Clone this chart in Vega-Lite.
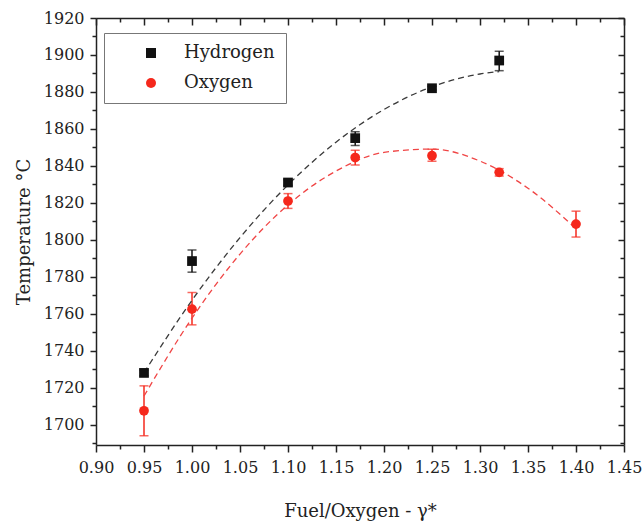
{
  "$schema": "https://vega.github.io/schema/vega-lite/v6.json",
  "width": 528,
  "height": 427,
  "autosize": {"type": "none"},
  "padding": {"left": 96, "top": 18, "right": 20, "bottom": 84},
  "background": "white",
  "config": {
    "view": {"stroke": null},
    "font": "DejaVu Serif",
    "axis": {
      "labelFont": "DejaVu Serif",
      "titleFont": "DejaVu Serif",
      "labelFontSize": 16,
      "titleFontSize": 18,
      "titleFontWeight": "normal",
      "labelColor": "#222",
      "titleColor": "#222",
      "domainColor": "#222",
      "tickColor": "#222",
      "domainWidth": 1.5,
      "tickWidth": 1.5,
      "grid": false
    },
    "legend": {
      "labelFont": "DejaVu Serif",
      "labelFontSize": 18,
      "labelColor": "#222",
      "orient": "none",
      "legendX": 8,
      "legendY": 15,
      "padding": 11,
      "strokeColor": "#777",
      "symbolOffset": 27,
      "labelOffset": 24,
      "rowPadding": 12,
      "symbolSize": 100,
      "symbolStrokeWidth": 0
    }
  },
  "datasets": {
    "pts": [
      {"series": "Hydrogen", "x": 0.95, "T": 1728, "lo": 1726.5, "hi": 1729.5},
      {"series": "Hydrogen", "x": 1.00, "T": 1788.5, "lo": 1782.5, "hi": 1794.5},
      {"series": "Hydrogen", "x": 1.10, "T": 1831, "lo": 1829.5, "hi": 1832.5},
      {"series": "Hydrogen", "x": 1.17, "T": 1855, "lo": 1851, "hi": 1858.5},
      {"series": "Hydrogen", "x": 1.25, "T": 1882, "lo": 1881, "hi": 1883},
      {"series": "Hydrogen", "x": 1.32, "T": 1897, "lo": 1891.5, "hi": 1902},
      {"series": "Oxygen", "x": 0.95, "T": 1707.5, "lo": 1694, "hi": 1721},
      {"series": "Oxygen", "x": 1.00, "T": 1762.5, "lo": 1754, "hi": 1771.5},
      {"series": "Oxygen", "x": 1.10, "T": 1821, "lo": 1817, "hi": 1825},
      {"series": "Oxygen", "x": 1.17, "T": 1844.5, "lo": 1840.5, "hi": 1848.5},
      {"series": "Oxygen", "x": 1.25, "T": 1845.5, "lo": 1842.5, "hi": 1849},
      {"series": "Oxygen", "x": 1.32, "T": 1836.5, "lo": 1834.5, "hi": 1838.5},
      {"series": "Oxygen", "x": 1.40, "T": 1808.5, "lo": 1801.5, "hi": 1815.5}
    ],
    "fit": [
      {"series": "Hydrogen", "x": 0.95, "T": 1728.1},
      {"series": "Hydrogen", "x": 1.00, "T": 1767.3},
      {"series": "Hydrogen", "x": 1.05, "T": 1801.2},
      {"series": "Hydrogen", "x": 1.10, "T": 1829.7},
      {"series": "Hydrogen", "x": 1.15, "T": 1852.8},
      {"series": "Hydrogen", "x": 1.20, "T": 1870.5},
      {"series": "Hydrogen", "x": 1.25, "T": 1882.8},
      {"series": "Hydrogen", "x": 1.30, "T": 1889.7},
      {"series": "Hydrogen", "x": 1.32, "T": 1891.0},
      {"series": "Oxygen", "x": 0.95, "T": 1715.5},
      {"series": "Oxygen", "x": 1.00, "T": 1757.6},
      {"series": "Oxygen", "x": 1.05, "T": 1792.3},
      {"series": "Oxygen", "x": 1.10, "T": 1818.9},
      {"series": "Oxygen", "x": 1.15, "T": 1837.2},
      {"series": "Oxygen", "x": 1.20, "T": 1847.3},
      {"series": "Oxygen", "x": 1.25, "T": 1849.1},
      {"series": "Oxygen", "x": 1.30, "T": 1842.6},
      {"series": "Oxygen", "x": 1.35, "T": 1827.9},
      {"series": "Oxygen", "x": 1.40, "T": 1806.0}
    ]
  },
  "resolve": {"axis": {"x": "independent", "y": "independent"}},
  "layer": [
    {
      "data": {"name": "pts"},
      "mark": {"type": "rule", "strokeWidth": 1.5},
      "encoding": {
        "x": {
          "field": "x", "type": "quantitative",
          "scale": {"domain": [0.9, 1.45], "nice": false, "zero": false},
          "axis": {
            "orient": "bottom", "title": "Fuel/Oxygen - γ*",
            "values": [0.9, 0.95, 1.0, 1.05, 1.1, 1.15, 1.2, 1.25, 1.3, 1.35, 1.4, 1.45],
            "format": ".2f", "tickSize": 7, "labelPadding": 7, "titlePadding": 27,
            "labelFlush": false, "labelOverlap": false
          }
        },
        "y": {
          "field": "lo", "type": "quantitative",
          "scale": {"domain": [1689, 1920], "nice": false, "zero": false},
          "axis": {
            "orient": "left", "title": "Temperature °C",
            "values": [1700, 1720, 1740, 1760, 1780, 1800, 1820, 1840, 1860, 1880, 1900, 1920],
            "format": "d", "tickSize": 6, "labelPadding": 6, "titlePadding": 10,
            "labelFlush": false, "labelOverlap": false
          }
        },
        "y2": {"field": "hi"},
        "stroke": {
          "field": "series", "type": "nominal",
          "scale": {"range": ["#111111", "#f5281c"]},
          "legend": null
        }
      }
    },
    {
      "data": {"name": "pts"},
      "mark": {"type": "tick", "orient": "horizontal", "size": 9, "thickness": 1.5},
      "encoding": {
        "x": {
          "field": "x", "type": "quantitative",
          "axis": {
            "orient": "bottom", "title": null, "labels": false, "domain": false,
            "values": [0.925, 0.975, 1.025, 1.075, 1.125, 1.175, 1.225, 1.275, 1.325, 1.375, 1.425],
            "tickSize": 4
          }
        },
        "y": {
          "field": "lo", "type": "quantitative",
          "axis": {
            "orient": "left", "title": null, "labels": false, "domain": false,
            "values": [1690, 1710, 1730, 1750, 1770, 1790, 1810, 1830, 1850, 1870, 1890, 1910],
            "tickSize": 4
          }
        },
        "fill": {
          "field": "series", "type": "nominal",
          "scale": {"range": ["#111111", "#f5281c"]},
          "legend": null
        }
      }
    },
    {
      "data": {"name": "pts"},
      "mark": {"type": "tick", "orient": "horizontal", "size": 9, "thickness": 1.5},
      "encoding": {
        "x": {
          "field": "x", "type": "quantitative",
          "axis": {
            "orient": "top", "title": null, "labels": false,
            "values": [0.9, 0.95, 1.0, 1.05, 1.1, 1.15, 1.2, 1.25, 1.3, 1.35, 1.4, 1.45],
            "tickSize": -7
          }
        },
        "y": {
          "field": "hi", "type": "quantitative",
          "axis": {
            "orient": "right", "title": null, "labels": false,
            "values": [1700, 1720, 1740, 1760, 1780, 1800, 1820, 1840, 1860, 1880, 1900, 1920],
            "tickSize": -6
          }
        },
        "fill": {"field": "series", "type": "nominal", "legend": null}
      }
    },
    {
      "data": {"name": "fit"},
      "transform": [{"filter": "datum.series === 'Hydrogen'"}],
      "mark": {"type": "line", "stroke": "#3a3a3a", "strokeWidth": 1.3, "strokeDash": [6, 4], "interpolate": "monotone"},
      "encoding": {
        "x": {
          "field": "x", "type": "quantitative",
          "axis": {
            "orient": "top", "title": null, "labels": false, "domain": false,
            "values": [0.925, 0.975, 1.025, 1.075, 1.125, 1.175, 1.225, 1.275, 1.325, 1.375, 1.425],
            "tickSize": -4
          }
        },
        "y": {
          "field": "T", "type": "quantitative",
          "axis": {
            "orient": "right", "title": null, "labels": false, "domain": false,
            "values": [1690, 1710, 1730, 1750, 1770, 1790, 1810, 1830, 1850, 1870, 1890, 1910],
            "tickSize": -4
          }
        }
      }
    },
    {
      "data": {"name": "fit"},
      "transform": [{"filter": "datum.series === 'Oxygen'"}],
      "mark": {"type": "line", "stroke": "#f04545", "strokeWidth": 1.3, "strokeDash": [6, 4], "interpolate": "monotone"},
      "encoding": {
        "x": {"field": "x", "type": "quantitative", "axis": null},
        "y": {"field": "T", "type": "quantitative", "axis": null}
      }
    },
    {
      "data": {"name": "pts"},
      "mark": {"type": "point", "filled": true, "opacity": 1, "size": 95},
      "encoding": {
        "x": {"field": "x", "type": "quantitative", "axis": null},
        "y": {"field": "T", "type": "quantitative", "axis": null},
        "color": {
          "field": "series", "type": "nominal", "title": null,
          "scale": {"domain": ["Hydrogen", "Oxygen"], "range": ["#111111", "#f5281c"]}
        },
        "shape": {
          "field": "series", "type": "nominal", "title": null,
          "scale": {"domain": ["Hydrogen", "Oxygen"], "range": ["square", "circle"]}
        }
      }
    }
  ]
}
